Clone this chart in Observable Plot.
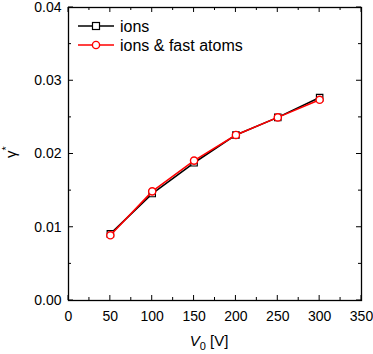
<!DOCTYPE html>
<html>
<head>
<meta charset="utf-8">
<script src="https://cdn.jsdelivr.net/npm/d3@7"></script>
<script src="https://cdn.jsdelivr.net/npm/@observablehq/plot@0.6"></script>
<style>
  html, body { margin: 0; padding: 0; background: #fff; }
  #chart { position: relative; width: 373px; height: 354px; }
  svg { font-family: "Liberation Sans", Arial, sans-serif; }
</style>
</head>
<body>
<div id="chart"></div>
<script>
// Data
const voltages = [50, 100, 150, 200, 250, 300];
const gammaIons = [0.0091, 0.0146, 0.0188, 0.0226, 0.0250, 0.0277];
const gammaIonsFast = [0.0089, 0.0149, 0.0191, 0.0226, 0.0250, 0.0274];
const xTicks = [0, 50, 100, 150, 200, 250, 300, 350];
const xMinor = [25, 75, 125, 175, 225, 275, 325];
const yTicks = [0, 0.01, 0.02, 0.03, 0.04];
const yMinor = [0.005, 0.015, 0.025, 0.035];
const seriesNames = ["ions", "ions & fast atoms"];

const ions = voltages.map((v, i) => ({v, g: gammaIons[i]}));
const fast = voltages.map((v, i) => ({v, g: gammaIonsFast[i]}));

const tickFont = '"Liberation Sans Narrow", "Liberation Sans", Arial, sans-serif';
const fs = 14;
const plot = Plot.plot({
  width: 373,
  height: 354,
  marginLeft: 68,
  marginRight: 12,
  marginTop: 7,
  marginBottom: 54,
  style: {fontFamily: '"Liberation Sans", Arial, sans-serif', fontSize: fs + "px", background: "white"},
  x: {domain: [0, 350]},
  y: {domain: [0, 0.04]},
  marks: [
    Plot.axisX({anchor: "bottom", ticks: xTicks, tickSize: 0, tickPadding: 11, tickFormat: d => d, fontSize: fs, fontFamily: tickFont, label: null, color: "#000"}),
    Plot.axisY({anchor: "left", ticks: yTicks, tickSize: 0, tickPadding: 7, tickFormat: d3.format(".2f"), fontSize: fs, fontFamily: tickFont, label: null, color: "#000"}),
    Plot.frame({stroke: "#000", strokeWidth: 1.3}),
    Plot.line(ions, {x: "v", y: "g", stroke: "#000", strokeWidth: 1.6}),
    Plot.dot(ions, {x: "v", y: "g", symbol: "square", r: 3.6, stroke: "#000", fill: "white", strokeWidth: 1.2}),
    Plot.line(fast, {x: "v", y: "g", stroke: "#ff0000", strokeWidth: 1.6}),
    Plot.dot(fast, {x: "v", y: "g", symbol: "circle", r: 3.6, stroke: "#ff0000", fill: "white", strokeWidth: 1.4})
  ]
});

document.getElementById("chart").appendChild(plot);
const svg = d3.select(plot);
const sx = plot.scale("x"), sy = plot.scale("y");
const X = v => sx.apply(v), Y = v => sy.apply(v);
const x0 = X(0), x1 = X(350), y0 = Y(0), y1 = Y(0.04);

// inward ticks on all four sides
const tg = svg.append("g").attr("stroke", "#000").attr("stroke-width", 1);
const tick = (xa, ya, xb, yb) => tg.append("line").attr("x1", xa).attr("y1", ya).attr("x2", xb).attr("y2", yb);
xTicks.forEach(t => { tick(X(t), y0, X(t), y0 - 5); tick(X(t), y1, X(t), y1 + 5); });
xMinor.forEach(t => { tick(X(t), y0, X(t), y0 - 3); tick(X(t), y1, X(t), y1 + 3); });
yTicks.forEach(t => { tick(x0, Y(t), x0 + 5, Y(t)); tick(x1, Y(t), x1 - 5, Y(t)); });
yMinor.forEach(t => { tick(x0, Y(t), x0 + 3, Y(t)); tick(x1, Y(t), x1 - 3, Y(t)); });

// x label: V0 [V]
const xl = svg.append("text")
  .attr("x", 209).attr("y", 346)
  .attr("text-anchor", "middle")
  .attr("font-size", 15).attr("fill", "#000");
xl.append("tspan").attr("font-style", "italic").text("V");
xl.append("tspan").attr("font-size", 11).attr("dy", 4).text("0");
xl.append("tspan").attr("dy", -4).text(" [V]");

// y label: gamma*
const yl = svg.append("text")
  .attr("transform", "translate(16,152) rotate(-90)")
  .attr("text-anchor", "middle")
  .attr("font-size", 15).attr("fill", "#000");
yl.append("tspan").text("γ");
yl.append("tspan").attr("font-size", 11).attr("dy", -6).text("*");

// legend
const leg = svg.append("g");
const rows = [
  {name: seriesNames[0], color: "#000", sym: "square", y: 26},
  {name: seriesNames[1], color: "#ff0000", sym: "circle", y: 45}
];
rows.forEach(r => {
  leg.append("line").attr("x1", 78).attr("x2", 114).attr("y1", r.y).attr("y2", r.y)
    .attr("stroke", r.color).attr("stroke-width", 1.6);
  if (r.sym === "square") {
    leg.append("rect").attr("x", 92.5).attr("y", r.y - 3.5).attr("width", 7).attr("height", 7)
      .attr("fill", "white").attr("stroke", r.color).attr("stroke-width", 1.2);
  } else {
    leg.append("circle").attr("cx", 96).attr("cy", r.y).attr("r", 3.6)
      .attr("fill", "white").attr("stroke", r.color).attr("stroke-width", 1.4);
  }
  leg.append("text").attr("x", 120).attr("y", r.y).attr("dy", "0.35em")
    .attr("text-anchor", "start")
    .attr("font-size", 16).attr("fill", "#000").text(r.name);
});
</script>
</body>
</html>
